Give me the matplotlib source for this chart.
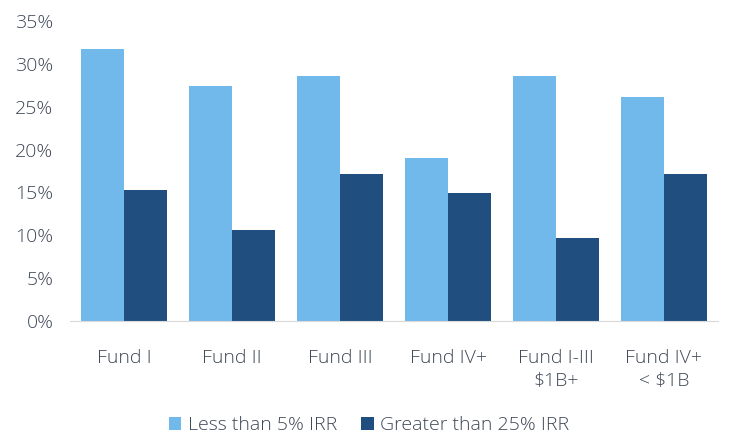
import numpy as np
import matplotlib
matplotlib.use("Agg")
from matplotlib import pyplot as plt
from matplotlib.ticker import PercentFormatter

categories = ["Fund I", "Fund II", "Fund III", "Fund IV+", "Fund I-III\n$1B+", "Fund IV+\n< $1B"]
less_than_5 = [31.7, 27.4, 28.6, 19.0, 28.6, 26.1]
greater_than_25 = [15.3, 10.6, 17.2, 14.9, 9.7, 17.2]

light = "#71b8eb"
dark = "#1f4e7f"
text_color = "#3f4856"

plt.rcParams["font.family"] = ["Open Sans", "DejaVu Sans"]
plt.rcParams["font.weight"] = "light"

fig = plt.figure(figsize=(7.31, 4.38), dpi=100)
ax = fig.add_axes([0.096, 0.267, 0.886, 0.685])

x = np.arange(len(categories))
w = 0.4
ax.bar(x - w / 2, less_than_5, w, color=light, label="Less than 5% IRR")
ax.bar(x + w / 2, greater_than_25, w, color=dark, label="Greater than 25% IRR")

ax.set_xlim(-0.5, len(categories) - 0.5)
ax.set_ylim(0, 35)
ax.set_yticks(np.arange(0, 36, 5))
ax.yaxis.set_major_formatter(PercentFormatter(decimals=0))
ax.set_xticks(x)
ax.set_xticklabels(categories, ha="center", multialignment="center", linespacing=1.35)

for s in ["top", "right", "left"]:
    ax.spines[s].set_visible(False)
ax.spines["bottom"].set_color("#d9d9d9")
ax.tick_params(axis="both", length=0, labelsize=14, colors=text_color)
ax.tick_params(axis="x", pad=20)
ax.tick_params(axis="y", pad=12)

fig.legend(loc="center", bbox_to_anchor=(0.505, 0.03), ncol=2, frameon=False,
           fontsize=14, labelcolor=text_color, handlelength=0.65, handleheight=0.65,
           handletextpad=0.35, columnspacing=1.2)

fig.savefig("out.png", dpi=100)
